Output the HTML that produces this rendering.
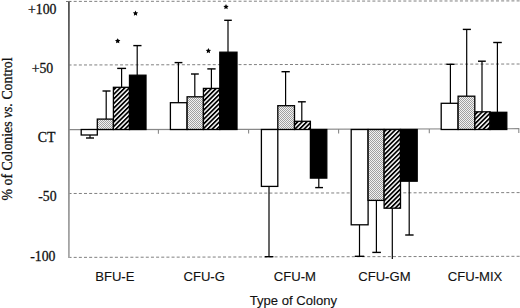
<!DOCTYPE html>
<html><head><meta charset="utf-8"><style>
html,body{margin:0;padding:0;background:#fff;}
body{width:520px;height:308px;position:relative;overflow:hidden;}
svg{position:absolute;left:0;top:0;}
.t{position:absolute;white-space:nowrap;line-height:1;}
.s{font-family:"Liberation Serif",serif;font-size:13.8px;color:#111;-webkit-text-stroke:0.3px #111;}
.c{width:100px;text-align:center;}
.a{font-family:"Liberation Sans",sans-serif;font-size:13.1px;color:#111;-webkit-text-stroke:0.12px #111;}
</style></head><body>
<svg width="520" height="308" viewBox="0 0 520 308">
<defs>
<linearGradient id="axg" x1="0" y1="0" x2="0" y2="1">
<stop offset="0" stop-color="#505050"/><stop offset="0.4" stop-color="#808080"/><stop offset="1" stop-color="#a8a8a8"/>
</linearGradient>
<pattern id="dots" width="2" height="2" patternUnits="userSpaceOnUse">
<rect width="2" height="2" fill="#f2f2f2"/>
<rect width="1" height="1" fill="#a0a0a0"/>
<rect x="1" y="1" width="1" height="1" fill="#a0a0a0"/>
</pattern>
<pattern id="hatch" width="3.25" height="3.25" patternUnits="userSpaceOnUse" patternTransform="rotate(45)">
<rect width="3.25" height="3.25" fill="#fff"/>
<rect width="1.75" height="3.25" fill="#000"/>
</pattern>
</defs>
<line x1="68" y1="1.4" x2="520" y2="0.90" stroke="#808080" stroke-width="1" stroke-dasharray="3 2.15" stroke-dashoffset="4.6"/>
<line x1="68" y1="65.0" x2="520" y2="64.00" stroke="#808080" stroke-width="1" stroke-dasharray="3 2.15" stroke-dashoffset="4.6"/>
<line x1="68" y1="193.5" x2="520" y2="192.60" stroke="#808080" stroke-width="1" stroke-dasharray="3 2.15" stroke-dashoffset="4.6"/>
<line x1="68" y1="257.4" x2="520" y2="256.30" stroke="#808080" stroke-width="1" stroke-dasharray="3 2.15" stroke-dashoffset="4.6"/>
<line x1="68" y1="129.7" x2="519.3" y2="128.71" stroke="#888" stroke-width="1.2"/>
<line x1="158.4" y1="129.50" x2="158.4" y2="133.80" stroke="#888" stroke-width="1.1"/>
<line x1="248.6" y1="129.30" x2="248.6" y2="133.60" stroke="#888" stroke-width="1.1"/>
<line x1="338.6" y1="129.10" x2="338.6" y2="133.40" stroke="#888" stroke-width="1.1"/>
<line x1="429.3" y1="128.91" x2="429.3" y2="133.21" stroke="#888" stroke-width="1.1"/>
<line x1="518.8" y1="128.71" x2="518.8" y2="133.01" stroke="#888" stroke-width="1.1"/>
<rect x="68" y="1" width="1.8" height="257" fill="url(#axg)"/>
<line x1="66" y1="1.5" x2="71" y2="1.5" stroke="#777" stroke-width="1"/>
<line x1="90.0" y1="135.0" x2="90.0" y2="138.0" stroke="#000" stroke-width="1.2"/>
<line x1="86" y1="138.0" x2="94" y2="138.0" stroke="#000" stroke-width="1.4"/>
<line x1="106.2" y1="119.1" x2="106.2" y2="91.0" stroke="#000" stroke-width="1.2"/>
<line x1="102.5" y1="91.0" x2="110.5" y2="91.0" stroke="#000" stroke-width="1.4"/>
<line x1="121.6" y1="87.3" x2="121.6" y2="68.4" stroke="#000" stroke-width="1.2"/>
<line x1="117.2" y1="68.4" x2="126.1" y2="68.4" stroke="#000" stroke-width="1.4"/>
<line x1="137.2" y1="75.2" x2="137.2" y2="45.6" stroke="#000" stroke-width="1.2"/>
<line x1="133.3" y1="45.6" x2="141.5" y2="45.6" stroke="#000" stroke-width="1.4"/>
<line x1="178.4" y1="102.7" x2="178.4" y2="62.6" stroke="#000" stroke-width="1.2"/>
<line x1="174.6" y1="62.6" x2="182.4" y2="62.6" stroke="#000" stroke-width="1.4"/>
<line x1="194.8" y1="96.8" x2="194.8" y2="74.0" stroke="#000" stroke-width="1.2"/>
<line x1="191" y1="74.0" x2="198.8" y2="74.0" stroke="#000" stroke-width="1.4"/>
<line x1="211.4" y1="88.4" x2="211.4" y2="68.9" stroke="#000" stroke-width="1.2"/>
<line x1="207.3" y1="68.9" x2="215.6" y2="68.9" stroke="#000" stroke-width="1.4"/>
<line x1="228.0" y1="52.2" x2="228.0" y2="20.3" stroke="#000" stroke-width="1.2"/>
<line x1="224.2" y1="20.3" x2="231.8" y2="20.3" stroke="#000" stroke-width="1.4"/>
<line x1="269.0" y1="186.4" x2="269.0" y2="256.7" stroke="#000" stroke-width="1.2"/>
<line x1="264.8" y1="256.7" x2="273.4" y2="256.7" stroke="#000" stroke-width="1.4"/>
<line x1="285.6" y1="105.7" x2="285.6" y2="71.7" stroke="#000" stroke-width="1.2"/>
<line x1="281.5" y1="71.7" x2="289.8" y2="71.7" stroke="#000" stroke-width="1.4"/>
<line x1="301.8" y1="121.3" x2="301.8" y2="101.8" stroke="#000" stroke-width="1.2"/>
<line x1="297.9" y1="101.8" x2="305.8" y2="101.8" stroke="#000" stroke-width="1.4"/>
<line x1="318.8" y1="178.1" x2="318.8" y2="187.6" stroke="#000" stroke-width="1.2"/>
<line x1="315.2" y1="187.6" x2="323" y2="187.6" stroke="#000" stroke-width="1.4"/>
<line x1="359.5" y1="224.8" x2="359.5" y2="256.3" stroke="#000" stroke-width="1.2"/>
<line x1="354.8" y1="256.3" x2="364.2" y2="256.3" stroke="#000" stroke-width="1.4"/>
<line x1="376.4" y1="200.4" x2="376.4" y2="252.4" stroke="#000" stroke-width="1.2"/>
<line x1="372.3" y1="252.4" x2="380.9" y2="252.4" stroke="#000" stroke-width="1.4"/>
<line x1="392.3" y1="208.2" x2="392.3" y2="259.0" stroke="#000" stroke-width="1.2"/>
<line x1="409.2" y1="181.2" x2="409.2" y2="235.0" stroke="#000" stroke-width="1.2"/>
<line x1="405.2" y1="235.0" x2="413.6" y2="235.0" stroke="#000" stroke-width="1.4"/>
<line x1="450.4" y1="103.3" x2="450.4" y2="64.3" stroke="#000" stroke-width="1.2"/>
<line x1="446.4" y1="64.3" x2="454.6" y2="64.3" stroke="#000" stroke-width="1.4"/>
<line x1="466.7" y1="96.2" x2="466.7" y2="29.4" stroke="#000" stroke-width="1.2"/>
<line x1="462.8" y1="29.4" x2="470.9" y2="29.4" stroke="#000" stroke-width="1.4"/>
<line x1="482.0" y1="111.8" x2="482.0" y2="61.2" stroke="#000" stroke-width="1.2"/>
<line x1="478" y1="61.2" x2="485.8" y2="61.2" stroke="#000" stroke-width="1.4"/>
<line x1="497.4" y1="112.3" x2="497.4" y2="42.5" stroke="#000" stroke-width="1.2"/>
<line x1="493.2" y1="42.5" x2="501.8" y2="42.5" stroke="#000" stroke-width="1.4"/>
<rect x="81.20" y="129.50" width="16.10" height="5.50" fill="#fff" stroke="#000" stroke-width="1.3"/>
<rect x="97.30" y="119.10" width="16.10" height="10.40" fill="url(#dots)" stroke="#000" stroke-width="1.3"/>
<rect x="113.40" y="87.30" width="16.10" height="42.20" fill="url(#hatch)" stroke="#000" stroke-width="1.3"/>
<rect x="129.50" y="75.20" width="16.50" height="54.30" fill="#000" stroke="#000" stroke-width="1.3"/>
<rect x="170.40" y="102.70" width="16.70" height="26.80" fill="#fff" stroke="#000" stroke-width="1.3"/>
<rect x="187.10" y="96.80" width="16.30" height="32.70" fill="url(#dots)" stroke="#000" stroke-width="1.3"/>
<rect x="203.40" y="88.40" width="16.40" height="41.10" fill="url(#hatch)" stroke="#000" stroke-width="1.3"/>
<rect x="219.80" y="52.20" width="17.20" height="77.30" fill="#000" stroke="#000" stroke-width="1.3"/>
<rect x="261.40" y="129.50" width="16.40" height="56.90" fill="#fff" stroke="#000" stroke-width="1.3"/>
<rect x="277.80" y="105.70" width="16.70" height="23.80" fill="url(#dots)" stroke="#000" stroke-width="1.3"/>
<rect x="294.50" y="121.30" width="15.90" height="8.20" fill="url(#hatch)" stroke="#000" stroke-width="1.3"/>
<rect x="310.40" y="129.50" width="16.40" height="48.60" fill="#000" stroke="#000" stroke-width="1.3"/>
<rect x="351.20" y="129.50" width="16.90" height="95.30" fill="#fff" stroke="#000" stroke-width="1.3"/>
<rect x="368.10" y="129.50" width="16.00" height="70.90" fill="url(#dots)" stroke="#000" stroke-width="1.3"/>
<rect x="384.10" y="129.50" width="16.40" height="78.70" fill="url(#hatch)" stroke="#000" stroke-width="1.3"/>
<rect x="400.50" y="129.50" width="16.70" height="51.70" fill="#000" stroke="#000" stroke-width="1.3"/>
<rect x="441.20" y="103.30" width="16.90" height="26.20" fill="#fff" stroke="#000" stroke-width="1.3"/>
<rect x="458.10" y="96.20" width="16.70" height="33.30" fill="url(#dots)" stroke="#000" stroke-width="1.3"/>
<rect x="474.80" y="111.80" width="15.30" height="17.70" fill="url(#hatch)" stroke="#000" stroke-width="1.3"/>
<rect x="490.10" y="112.30" width="16.70" height="17.20" fill="#000" stroke="#000" stroke-width="1.3"/>
<polygon points="117.70,38.20 118.52,39.87 120.36,40.13 119.03,41.43 119.35,43.27 117.70,42.40 116.05,43.27 116.37,41.43 115.04,40.13 116.88,39.87" fill="#000"/>
<polygon points="135.50,10.60 136.32,12.27 138.16,12.53 136.83,13.83 137.15,15.67 135.50,14.80 133.85,15.67 134.17,13.83 132.84,12.53 134.68,12.27" fill="#000"/>
<polygon points="208.40,48.10 209.22,49.77 211.06,50.03 209.73,51.33 210.05,53.17 208.40,52.30 206.75,53.17 207.07,51.33 205.74,50.03 207.58,49.77" fill="#000"/>
<polygon points="226.00,4.10 226.82,5.77 228.66,6.03 227.33,7.33 227.65,9.17 226.00,8.30 224.35,9.17 224.67,7.33 223.34,6.03 225.18,5.77" fill="#000"/>
</svg>
<div class="t s" style="left:28px;top:2.7px">+100</div>
<div class="t s" style="left:31.7px;top:62px">+50</div>
<div class="t s" style="left:37.8px;top:131px">CT</div>
<div class="t s" style="left:38.2px;top:190.2px">-50</div>
<div class="t s" style="left:30.2px;top:249.5px">-100</div>
<div class="t s" style="left:-63.5px;top:123px;transform:rotate(-90deg);transform-origin:center;width:141px;text-align:center">% of Colonies <i>vs.</i> Control</div>
<div class="t a c" style="left:64.8px;top:269.9px">BFU-E</div>
<div class="t a c" style="left:154.2px;top:269.9px">CFU-G</div>
<div class="t a c" style="left:244.9px;top:269.9px">CFU-M</div>
<div class="t a c" style="left:334.4px;top:269.9px">CFU-GM</div>
<div class="t a c" style="left:425.0px;top:269.9px">CFU-MIX</div>
<div class="t a c" style="left:243.35px;top:293.5px">Type of Colony</div>
</body></html>
